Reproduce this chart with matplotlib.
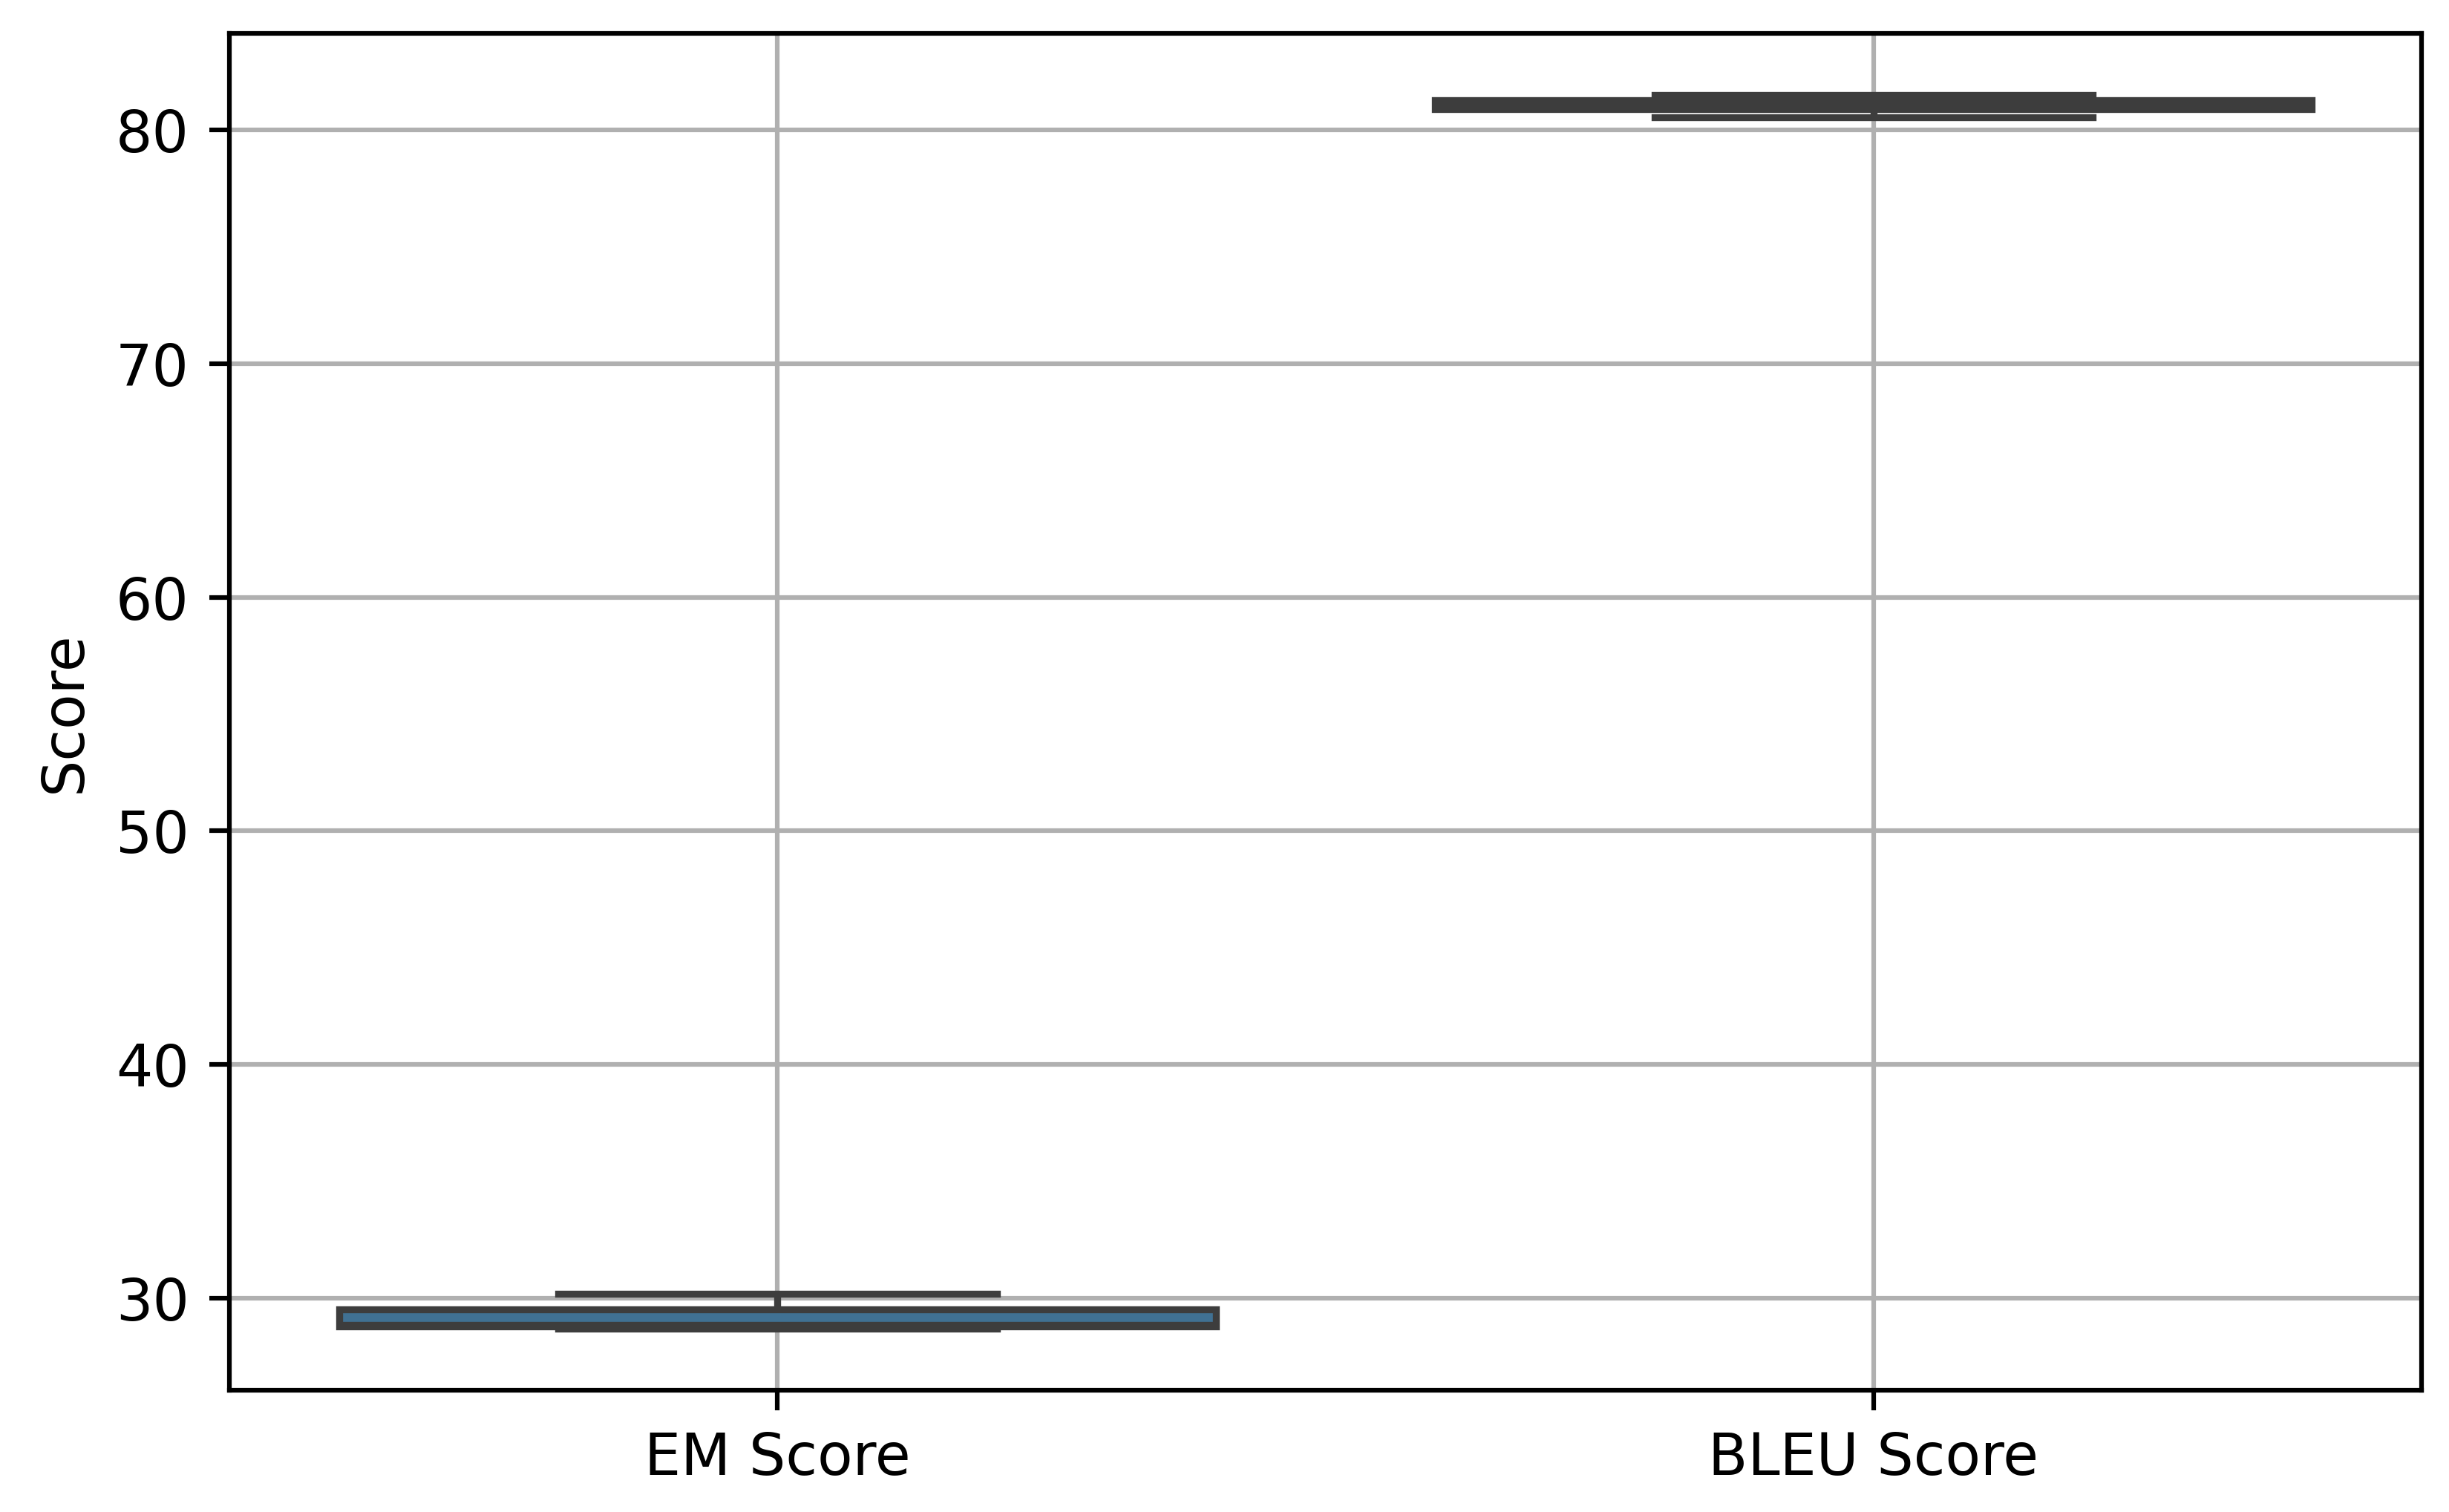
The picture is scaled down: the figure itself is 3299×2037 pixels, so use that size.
import matplotlib
matplotlib.use("Agg")
import matplotlib.pyplot as plt
import pandas as pd
import seaborn as sns

# per-run scores
metrics = ["EM Score", "BLEU Score"]
em_scores = [28.70, 28.78, 28.86, 29.52, 30.18]
bleu_scores = [80.54, 80.89, 81.10, 81.27, 81.49]

df = pd.DataFrame({
    "Metric": [metrics[0]] * len(em_scores) + [metrics[1]] * len(bleu_scores),
    "Score": em_scores + bleu_scores,
})

fig = plt.figure(figsize=(3299 / 560, 2037 / 560), dpi=560)
ax = fig.add_axes([0.0937, 0.0805, 0.8951, 0.8974])

sns.boxplot(data=df, x="Metric", y="Score", ax=ax, color="#3274a1",
            linecolor="#3d3d3d", linewidth=1.2, width=0.8)
ax.grid(True)
ax.set_xlabel("")
ax.set_ylabel("Score")

fig.savefig("out.png", dpi=560)
